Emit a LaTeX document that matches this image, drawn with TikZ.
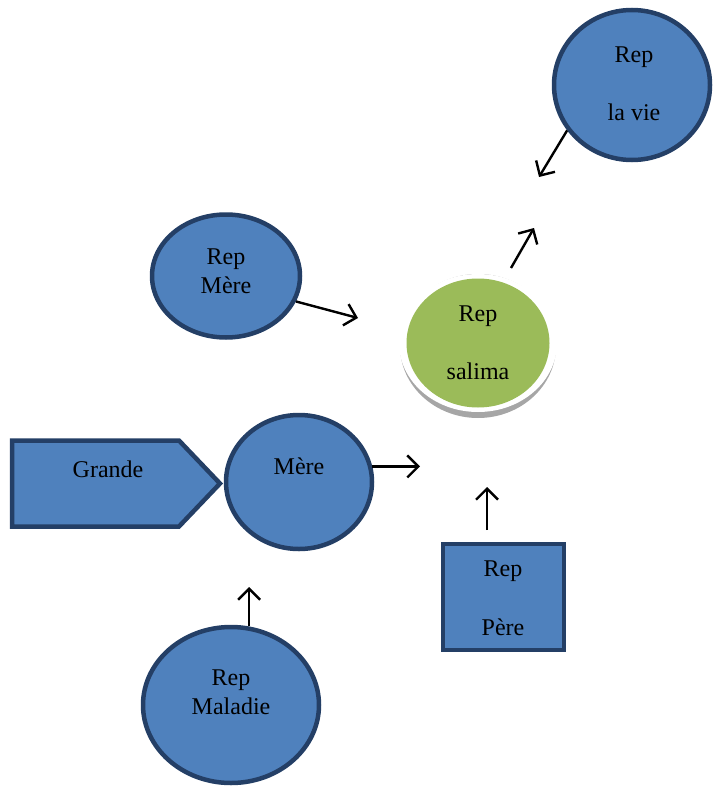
\documentclass[tikz,border=0pt]{standalone}
\usepackage{fontspec}
\setmainfont{Liberation Serif}
\usetikzlibrary{shapes.geometric,arrows.meta}
\definecolor{bluefill}{HTML}{4F81BD}
\definecolor{blueline}{HTML}{243F66}
\definecolor{greenfill}{HTML}{9BBB59}
\definecolor{shadowgray}{HTML}{A6A6A6}
\tikzset{
  bubble/.style={ellipse, fill=bluefill, draw=blueline, line width=4.5pt, inner sep=0pt},
  boxshape/.style={rectangle, fill=bluefill, draw=blueline, line width=4.5pt, inner sep=0pt},
  outline/.style={fill=bluefill, draw=blueline, line width=4.5pt, line join=miter},
  label text/.style={font=\fontsize{24}{29}\selectfont, align=center, inner sep=0pt},
  arr/.style={-{Straight Barb[length=11pt,width=22pt]}, line width=2.4pt, black},
}
\begin{document}
\begin{tikzpicture}[x=1pt,y=-1pt]
\useasboundingbox (0,0) rectangle (713,787);

% top-right circle
\node[bubble, minimum width=156pt, minimum height=150pt] (lavie) at (632,85) {};
\node[label text] (lavietxt) at (634,84) {Rep\\[29pt]la vie};

% upper-left ellipse
\node[bubble, minimum width=148pt, minimum height=123pt] (repmere) at (226,276) {};
\node[label text] (repmeretxt) at (226,271) {Rep\\Mère};

% central green disc with its soft rim and shadow
\fill[shadowgray] (478,346) ellipse [x radius=78pt, y radius=72pt];
\fill[white] (478,343) ellipse [x radius=79pt, y radius=69pt];
\node[ellipse, fill=greenfill, inner sep=0pt, minimum width=143pt, minimum height=129pt] (salima) at (478,343) {};
\node[label text] (salimatxt) at (478,343) {Rep\\[29pt]salima};

% pointed box feeding the middle circle
\coordinate (gtip) at (220,483.5);
\draw[outline] (12,440.5) -- (179,440.5) -- (gtip) -- (179,526.5) -- (12,526.5) -- cycle;
\node[label text] (grandetxt) at (108,469) {Grande};

% middle circle
\node[bubble, minimum width=146pt, minimum height=134pt] (mere) at (299,482) {};
\node[label text] (meretxt) at (299,466) {Mère};

% square
\node[boxshape, minimum width=121pt, minimum height=106pt] (pere) at (503.5,597) {};
\node[label text] (peretxt) at (503,598) {Rep\\[30pt]Père};

% bottom circle
\node[bubble, minimum width=176pt, minimum height=156pt] (maladie) at (231,705) {};
\node[label text] (maladietxt) at (231,692) {Rep\\Maladie};

% free ends of the arrows
\coordinate (a1) at (539,177);
\coordinate (s2) at (511,268);
\coordinate (a2) at (534,228);
\coordinate (a3) at (358,318);
\coordinate (a4) at (420,467);
\coordinate (s5) at (487,530);
\coordinate (a5) at (487,487);
\coordinate (a6) at (250,587);

% arrows
\draw[arr] (lavie.215) -- (a1);
\draw[arr] (s2) -- (a2);
\draw[arr] (repmere.-20) -- (a3);
\draw[arr] (mere.12) -- (mere.12 -| a4);
\draw[arr] (s5) -- (a5);
\draw[arr] (maladie.77) -- (maladie.77 |- a6);
\end{tikzpicture}
\end{document}
